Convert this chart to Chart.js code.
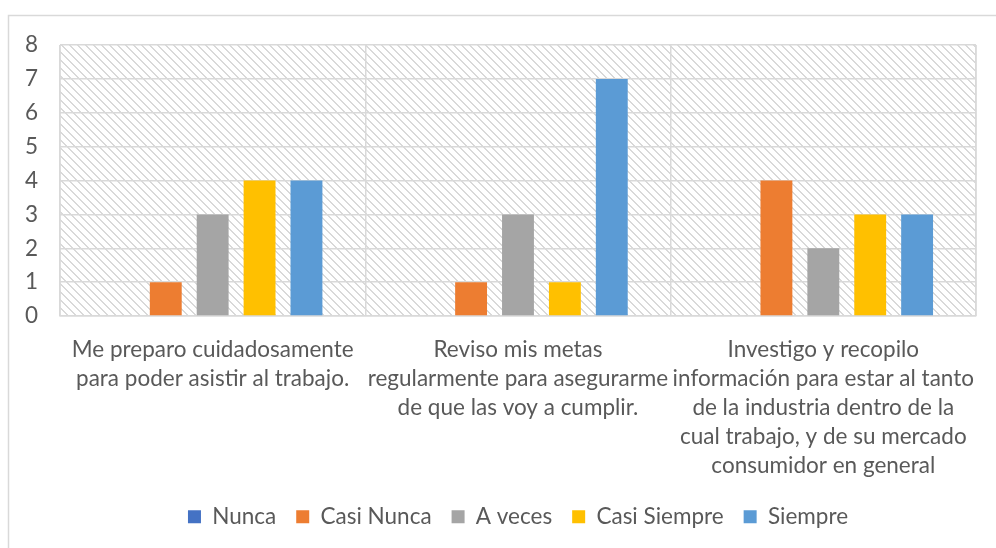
<!DOCTYPE html>
<html>
<head>
<meta charset="utf-8">
<script src="https://cdn.jsdelivr.net/npm/chart.js@4/dist/chart.umd.min.js"></script>
<style>
  html, body { margin: 0; padding: 0; background: #ffffff; }
  #wrap { width: 996px; height: 548px; position: relative; }
</style>
</head>
<body>
<div id="wrap"><canvas id="c" width="996" height="548"></canvas></div>
<script>
const categories = [
  ["Me preparo cuidadosamente", "para poder asistir al trabajo."],
  ["Reviso mis metas", "regularmente para asegurarme", "de que las voy a cumplir."],
  ["Investigo y recopilo", "información para estar al tanto", "de la industria dentro de la", "cual trabajo, y de su mercado", "consumidor en general"]
];
const seriesNames = ["Nunca", "Casi Nunca", "A veces", "Casi Siempre", "Siempre"];
const nunca = [0, 0, 0];
const casiNunca = [1, 1, 4];
const aVeces = [3, 3, 2];
const casiSiempre = [4, 1, 3];
const siempre = [4, 7, 3];
const yTicks = [0, 1, 2, 3, 4, 5, 6, 7, 8];

const colors = ["#4472C4", "#ED7D31", "#A5A5A5", "#FFC000", "#5B9BD5"];
const seriesValues = [nunca, casiNunca, aVeces, casiSiempre, siempre];

const FONT = "Lato";
const FSIZE = 22.5;
const TEXT = "#595959";
const LEG_PAD = 20;
const BOTTOM_PAD = 10;

function makePattern(ctx) {
  const p = document.createElement('canvas');
  p.width = 8; p.height = 8;
  const pc = p.getContext('2d');
  pc.fillStyle = '#ffffff';
  pc.fillRect(0, 0, 8, 8);
  pc.fillStyle = '#d9d9d9';
  for (let i = 0; i < 8; i++) {
    pc.fillRect(i, i, 1, 1);
    pc.fillRect((i + 1) % 8, i, 1, 1);
  }
  return ctx.createPattern(p, 'repeat');
}

const bgPlugin = {
  id: 'bg',
  beforeDraw(chart) {
    const ctx = chart.ctx;
    const a = chart.chartArea;
    ctx.save();
    ctx.strokeStyle = '#d9d9d9';
    ctx.lineWidth = 1.5;
    ctx.strokeRect(8.5, 15.5, 1100, 1100);
    ctx.fillStyle = makePattern(ctx);
    ctx.fillRect(a.left, a.top, a.right - a.left, a.bottom - a.top);
    ctx.restore();
  },
  afterDatasetsDraw(chart) {
    const ctx = chart.ctx;
    const a = chart.chartArea;
    ctx.save();
    ctx.strokeStyle = '#d9d9d9';
    ctx.lineWidth = 1.5;
    ctx.beginPath();
    ctx.moveTo(a.left, a.top); ctx.lineTo(a.left, a.bottom);
    ctx.moveTo(a.right, a.top); ctx.lineTo(a.right, a.bottom);
    ctx.stroke();
    ctx.restore();
  }
};

const datasets = seriesNames.map((name, i) => ({
  label: name,
  data: seriesValues[i],
  backgroundColor: colors[i],
  borderWidth: 0,
  categoryPercentage: 0.768,
  barPercentage: 0.68
}));

new Chart(document.getElementById('c'), {
  type: 'bar',
  data: { labels: categories, datasets },
  plugins: [bgPlugin],
  options: {
    responsive: false,
    animation: false,
    layout: { padding: { left: 8, top: 45, right: 18, bottom: BOTTOM_PAD } },
    plugins: {
      tooltip: { enabled: false },
      legend: {
        position: 'bottom',
        fullSize: false,
        labels: {
          boxWidth: 13,
          boxHeight: 13,
          padding: LEG_PAD,
          color: TEXT,
          font: { family: FONT, size: FSIZE }
        }
      }
    },
    scales: {
      x: {
        grid: { color: '#d9d9d9', lineWidth: 1.5, drawTicks: false, offset: true },
        border: { color: '#d9d9d9', width: 1.5 },
        ticks: {
          color: TEXT,
          font: { family: FONT, size: FSIZE, lineHeight: 29 / FSIZE },
          padding: 19,
          maxRotation: 0,
          autoSkip: false
        },
        afterFit(scale) {
          const lg = FSIZE + LEG_PAD + 10;
          scale.height = 548 - BOTTOM_PAD - lg - 316;
        }
      },
      y: {
        min: 0, max: 8,
        afterBuildTicks(scale) { scale.ticks = yTicks.map(v => ({ value: v })); },
        grid: { color: '#d9d9d9', lineWidth: 1.5, drawTicks: false },
        border: { display: false },
        ticks: {
          color: TEXT,
          font: { family: FONT, size: FSIZE },
          padding: 22
        },
        afterFit(scale) { scale.width = 52; }
      }
    }
  }
});
</script>
</body>
</html>
